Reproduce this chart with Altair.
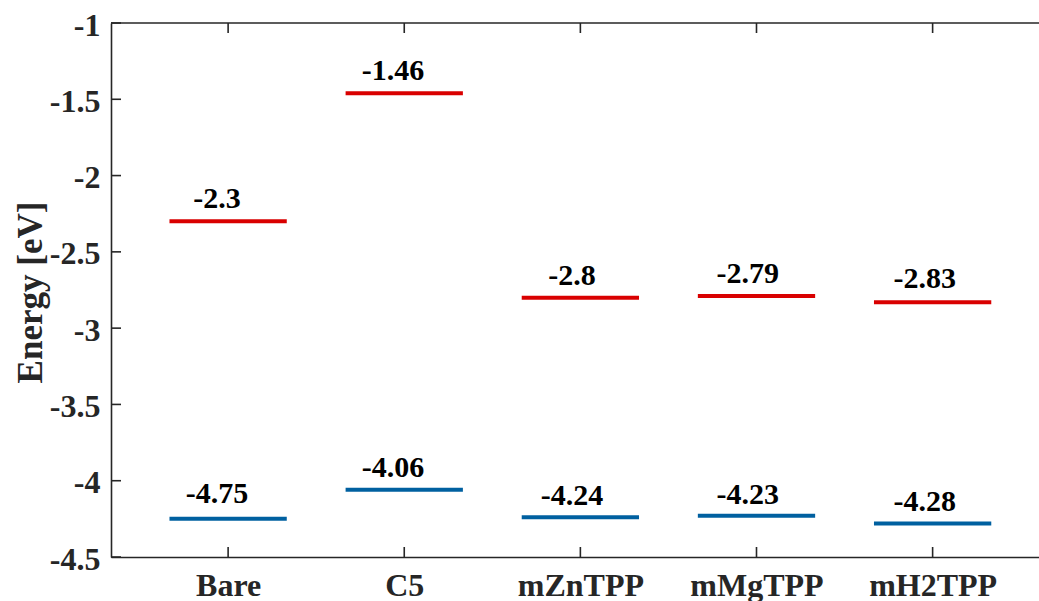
import json
import altair as alt
import pandas as pd

# ---- data ----
categories = ["Bare", "C5", "mZnTPP", "mMgTPP", "mH2TPP"]
cat_pos = [1, 2, 3, 4, 5]

lumo_level = [-2.30, -1.46, -2.80, -2.79, -2.83]
lumo_text = ["-2.3", "-1.46", "-2.8", "-2.79", "-2.83"]
lumo_label_y = [-2.212, -1.374, -2.717, -2.704, -2.737]

homo_level = [-4.25, -4.06, -4.24, -4.23, -4.28]
homo_text = ["-4.75", "-4.06", "-4.24", "-4.23", "-4.28"]
homo_label_y = [-4.146, -3.975, -4.159, -4.153, -4.198]

label_x = [0.937, 1.936, 2.952, 3.951, 4.956]

y_ticks = [-4.5, -4.0, -3.5, -3.0, -2.5, -2.0, -1.5, -1.0]

# ---- layout ----
W, H = 928, 534
FONT = "Liberation Serif"
AX = "#262626"
RED = "#d90000"
BLUE = "#0060a0"
HALF = 0.333

levels = pd.DataFrame({
    "pos": cat_pos * 2,
    "level": lumo_level + homo_level,
    "kind": ["LUMO"] * 5 + ["HOMO"] * 5,
})
labels = pd.DataFrame({
    "lx": label_x * 2,
    "ly": lumo_label_y + homo_label_y,
    "txt": lumo_text + homo_text,
})
yt = pd.DataFrame({"v": y_ticks})
xt = pd.DataFrame({"p": cat_pos})

xscale = alt.Scale(domain=[0.335, 5.604], nice=False, zero=False)
yscale = alt.Scale(domain=[-4.5, -1.0], nice=False, zero=False)

label_expr = json.dumps(categories) + "[datum.value - 1]"

x_axis = alt.Axis(
    values=cat_pos, labelExpr=label_expr, title="", grid=False, ticks=False,
    labelFont=FONT, labelFontSize=32, labelFontWeight="bold", labelColor=AX,
    labelPadding=13, labelBaseline="top", domainColor=AX, domainWidth=1.6,
)
y_axis = alt.Axis(
    values=y_ticks, labelExpr="'' + datum.value", title="Energy [eV]",
    grid=False, ticks=False,
    labelFont=FONT, labelFontSize=32, labelFontWeight="bold", labelColor=AX,
    labelPadding=11, labelOffset=2, domainColor=AX, domainWidth=1.6,
    titleFont=FONT, titleFontSize=35, titleFontWeight="bold", titleColor=AX,
    titleAngle=270, titleX=-81, titleY=269, titleAlign="center",
    titleBaseline="middle",
)

lines = alt.Chart(levels).transform_calculate(
    x0=f"datum.pos - {HALF}", x1=f"datum.pos + {HALF}"
).mark_rule(strokeWidth=4).encode(
    x=alt.X("x0:Q", scale=xscale, axis=x_axis),
    x2="x1:Q",
    y=alt.Y("level:Q", scale=yscale, axis=y_axis),
    color=alt.Color("kind:N", scale=alt.Scale(domain=["LUMO", "HOMO"], range=[RED, BLUE]), legend=None),
)

texts = alt.Chart(labels).mark_text(
    font=FONT, fontSize=30, fontWeight="bold", color="black",
    align="center", baseline="alphabetic",
).encode(
    x=alt.X("lx:Q", scale=xscale, axis=x_axis),
    y=alt.Y("ly:Q", scale=yscale, axis=y_axis),
    text="txt:N",
)

ytick_marks = alt.Chart(yt).mark_rule(color=AX, strokeWidth=1.6).encode(
    y=alt.Y("v:Q", scale=yscale, axis=y_axis),
    x=alt.value(0), x2=alt.value(10),
)
xtick_bottom = alt.Chart(xt).mark_rule(color=AX, strokeWidth=1.6).encode(
    x=alt.X("p:Q", scale=xscale, axis=x_axis),
    y=alt.value(H), y2=alt.value(H - 10),
)
xtick_top = alt.Chart(xt).mark_rule(color=AX, strokeWidth=1.6).encode(
    x=alt.X("p:Q", scale=xscale, axis=x_axis),
    y=alt.value(0), y2=alt.value(10),
)
top_border = alt.Chart(pd.DataFrame({"a": [0]})).mark_rule(color=AX, strokeWidth=1.6).encode(
    x=alt.value(0), x2=alt.value(W), y=alt.value(0),
)

chart = alt.layer(
    lines, texts, ytick_marks, xtick_bottom, xtick_top, top_border
).properties(
    width=W, height=H,
    autosize=alt.AutoSizeParams(type="none"),
    padding={"left": 111, "top": 23, "right": 0, "bottom": 44},
    background="white",
).configure_view(stroke="transparent")

chart.save("out.html", embed_options={"renderer": "svg", "actions": False})
